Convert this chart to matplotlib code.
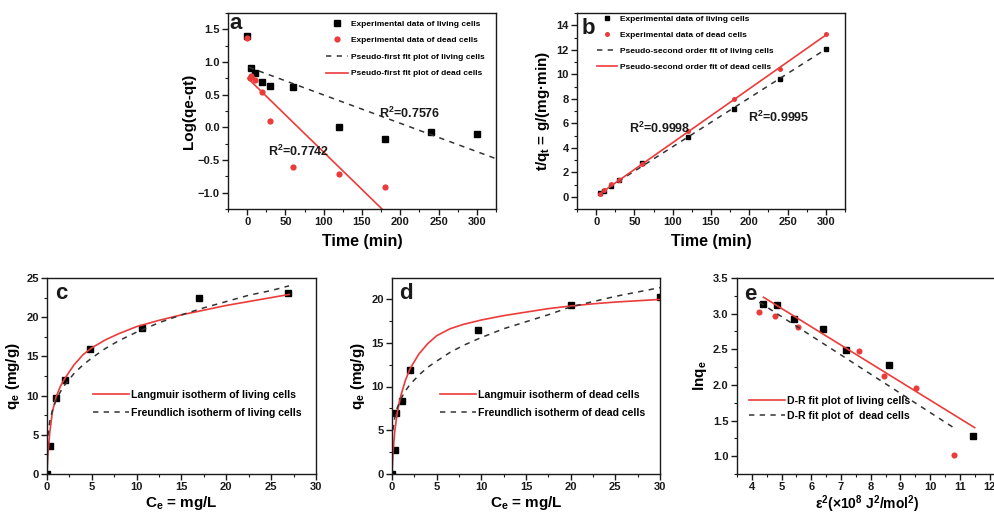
import numpy as np
import matplotlib
matplotlib.use("Agg")
import matplotlib.pyplot as plt
from matplotlib.ticker import MultipleLocator

# ---------- data ----------
# (a) pseudo-first order
t_a_living = [0, 5, 10, 20, 30, 60, 120, 180, 240, 300]
log_a_living = [1.40, 0.91, 0.83, 0.69, 0.63, 0.61, 0.00, -0.18, -0.07, -0.10]
t_a_dead = [0, 4, 5, 10, 20, 30, 60, 120, 180]
log_a_dead = [1.36, 0.76, 0.78, 0.72, 0.54, 0.10, -0.61, -0.71, -0.92]
fit_a_living_x = [2, 325]
fit_a_living_y = [0.92, -0.48]
fit_a_dead_x = [1, 177]
fit_a_dead_y = [0.75, -1.26]
r2_a = ["R$^2$=0.7576", "R$^2$=0.7742"]

# (b) pseudo-second order
t_b = [5, 10, 20, 30, 60, 120, 180, 240, 300]
tq_b_living = [0.30, 0.50, 0.90, 1.35, 2.75, 4.85, 7.20, 9.65, 12.05]
tq_b_dead = [0.25, 0.55, 1.05, 1.40, 2.70, 5.35, 8.00, 10.45, 13.25]
fit_b_living_x = [5, 300]
fit_b_living_y = [0.30, 12.05]
fit_b_dead_x = [5, 300]
fit_b_dead_y = [0.25, 13.20]
r2_b = ["R$^2$=0.9998", "R$^2$=0.9995"]

# (c) isotherms, living cells
ce_c = [0, 0.3, 0.98, 2.03, 4.81, 10.6, 17.0, 26.9]
qe_c = [0, 3.6, 9.75, 12.0, 16.0, 18.6, 22.45, 23.1]
lang_c_x = [0, 0.1, 0.3, 0.6, 1.0, 1.5, 2.0, 3.0, 4.0, 5.0, 6.5, 8.0, 10.0,
            12.5, 15.0, 17.5, 20.0, 22.5, 25.0, 27.0]
lang_c_y = [0, 2.4, 5.2, 7.9, 9.8, 11.2, 12.2, 13.9, 15.2, 16.1, 17.1, 17.9,
            18.8, 19.6, 20.3, 20.9, 21.5, 22.0, 22.5, 22.9]
freu_c_x = [0.03, 0.1, 0.3, 0.6, 1.0, 1.5, 2.0, 3.0, 4.0, 5.0, 6.5, 8.0, 10.0,
            12.5, 15.0, 17.5, 20.0, 22.5, 25.0, 27.0]
freu_c_y = [3.5, 4.9, 6.7, 8.1, 9.4, 10.5, 11.4, 12.8, 13.9, 14.8, 16.0, 17.0,
            18.1, 19.3, 20.3, 21.2, 22.0, 22.8, 23.4, 24.0]

# (d) isotherms, dead cells
ce_d = [0, 0.3, 0.5, 1.1, 2.0, 9.6, 20.0, 30.0]
qe_d = [0, 2.7, 7.0, 8.4, 11.9, 16.5, 19.3, 20.2]
lang_d_x = [0, 0.1, 0.3, 0.6, 1.0, 1.5, 2.0, 3.0, 4.0, 5.0, 6.5, 8.0, 10.0,
            12.5, 15.0, 17.5, 20.0, 22.5, 25.0, 27.5, 30.0]
lang_d_y = [0, 2.2, 4.8, 7.1, 9.0, 10.7, 12.0, 13.7, 14.9, 15.8, 16.6, 17.1,
            17.6, 18.1, 18.5, 18.9, 19.2, 19.45, 19.65, 19.8, 19.95]
freu_d_x = [0.1, 0.3, 0.6, 1.0, 1.5, 2.0, 3.0, 4.0, 5.0, 6.5, 8.0, 10.0,
            12.5, 15.0, 17.5, 20.0, 22.5, 25.0, 27.5, 30.0]
freu_d_y = [5.0, 6.4, 7.6, 8.6, 9.5, 10.2, 11.3, 12.2, 12.9, 13.9, 14.7, 15.6,
            16.6, 17.4, 18.2, 19.1, 19.7, 20.3, 20.8, 21.3]

# (e) D-R
eps_e_living = [4.39, 4.83, 5.43, 6.40, 7.17, 8.62, 11.45]
lnq_e_living = [3.14, 3.12, 2.93, 2.78, 2.49, 2.28, 1.28]
eps_e_dead = [4.25, 4.77, 5.54, 7.62, 8.46, 9.52, 10.80]
lnq_e_dead = [3.02, 2.96, 2.81, 2.48, 2.13, 1.95, 1.01]
fit_e_living_x = [4.39, 11.50]
fit_e_living_y = [3.23, 1.40]
fit_e_dead_x = [4.25, 10.79]
fit_e_dead_y = [3.16, 1.40]

RED = '#ec3b3b'
DARK = '#1a1a1a'

plt.rcParams['font.family'] = ['Liberation Sans', 'DejaVu Sans']
plt.rcParams['font.weight'] = 'bold'
plt.rcParams['axes.labelweight'] = 'bold'
plt.rcParams['mathtext.fontset'] = 'custom'
plt.rcParams['mathtext.rm'] = 'Liberation Sans:bold'
plt.rcParams['mathtext.it'] = 'Liberation Sans:bold'
plt.rcParams['mathtext.bf'] = 'Liberation Sans:bold'
plt.rcParams['mathtext.default'] = 'regular'

W, H = 995, 515
fig = plt.figure(figsize=(W / 100, H / 100), dpi=100)


def make_ax(l, r, t, b):
    # pixel box -> figure fraction
    return fig.add_axes([l / W, (H - b) / H, (r - l) / W, (b - t) / H])


def style(ax, xmaj, xmin, ymaj, ymin):
    ax.xaxis.set_major_locator(MultipleLocator(xmaj))
    ax.xaxis.set_minor_locator(MultipleLocator(xmin))
    ax.yaxis.set_major_locator(MultipleLocator(ymaj))
    ax.yaxis.set_minor_locator(MultipleLocator(ymin))
    ax.tick_params(which='major', direction='out', length=4, width=1,
                   labelsize=8, colors=DARK, pad=2)
    ax.tick_params(which='minor', direction='out', length=2, width=0.8, colors=DARK)
    for s in ax.spines.values():
        s.set_linewidth(1.0)
        s.set_color(DARK)


def panel_label(ax, txt, x, y):
    ax.text(x, y, txt, transform=ax.transAxes, fontsize=16, fontweight='bold',
            ha='center', va='center', color=DARK)


# ---------- a ----------
ax = make_ax(228, 496, 13, 209)
ax.plot(t_a_living, log_a_living, 's', color='black', ms=4.0, ls='none',
        label='Experimental data of living cells')
ax.plot(t_a_dead, log_a_dead, 'o', color=RED, ms=4.5, ls='none', mec='none',
        label='Experimental data of dead cells')
ax.plot(fit_a_living_x, fit_a_living_y, color='#333333', lw=1.1, dashes=(3.5, 3.5),
        label='Pseudo-first fit plot of living cells')
ax.plot(fit_a_dead_x, fit_a_dead_y, color=RED, lw=1.2,
        label='Pseudo-first fit plot of dead cells')
ax.set_xlim(-25, 325)
ax.set_ylim(-1.25, 1.75)
style(ax, 50, 25, 0.5, 0.25)
ax.set_xlabel('Time (min)', fontsize=11.5, labelpad=5)
ax.set_ylabel('Log(qe-qt)', fontsize=11, labelpad=1)
ax.text(172, 0.22, r2_a[0], fontsize=9, ha='left', va='center', color=DARK)
ax.text(27, -0.37, r2_a[1], fontsize=9, ha='left', va='center', color=DARK)
ax.legend(loc='upper left', bbox_to_anchor=(0.366, 0.965), frameon=False,
          fontsize=6, borderpad=0, labelspacing=1.05, handlelength=2.6,
          handletextpad=0.4, borderaxespad=0, numpoints=1)
panel_label(ax, 'a', 0.03, 0.945)

# ---------- b ----------
ax = make_ax(577, 845, 13, 209)
ax.plot(t_b, tq_b_living, 's', color='black', ms=3.2, ls='none',
        label='Experimental data of living cells')
ax.plot(t_b, tq_b_dead, 'o', color=RED, ms=3.6, ls='none', mec='none',
        label='Experimental data of dead cells')
ax.plot(fit_b_living_x, fit_b_living_y, color='#333333', lw=1.1, dashes=(3.5, 3.5),
        label='Pseudo-second order fit of living cells')
ax.plot(fit_b_dead_x, fit_b_dead_y, color=RED, lw=1.2,
        label='Pseudo-second order fit of dead cells')
ax.set_xlim(-25, 325)
ax.set_ylim(-1, 15)
style(ax, 50, 25, 2, 1)
ax.set_xlabel('Time (min)', fontsize=11.5, labelpad=5)
ax.set_ylabel('t/q$_t$ = g/(mg·min)', fontsize=11, labelpad=3)
ax.text(43, 5.55, r2_b[0], fontsize=9, ha='left', va='center', color=DARK)
ax.text(198, 6.5, r2_b[1], fontsize=9, ha='left', va='center', color=DARK)
ax.legend(loc='upper left', bbox_to_anchor=(0.075, 0.99), frameon=False,
          fontsize=6, borderpad=0, labelspacing=1.0, handlelength=2.4,
          handletextpad=0.3, borderaxespad=0, numpoints=1)
panel_label(ax, 'b', 0.042, 0.92)

# ---------- c ----------
ax = make_ax(47, 316, 278, 474)
ax.plot(ce_c, qe_c, 's', color='black', ms=3.8, ls='none')
ax.plot(lang_c_x, lang_c_y, color=RED, lw=1.2,
        label='Langmuir isotherm of living cells')
ax.plot(freu_c_x, freu_c_y, color='#333333', lw=1.1, dashes=(3.5, 3.5),
        label='Freundlich isotherm of living cells')
ax.set_xlim(0, 30)
ax.set_ylim(0, 25)
style(ax, 5, 2.5, 5, 2.5)
ax.set_xlabel('C$_e$ = mg/L', fontsize=11, labelpad=1)
ax.set_ylabel('q$_e$ (mg/g)', fontsize=11, labelpad=3)
ax.legend(loc='upper left', bbox_to_anchor=(0.17, 0.43), frameon=False,
          fontsize=7.6, borderpad=0, labelspacing=0.8, handlelength=3.4,
          handletextpad=0.2, borderaxespad=0)
panel_label(ax, 'c', 0.052, 0.92)

# ---------- d ----------
ax = make_ax(392, 660, 278, 474)
ax.plot(ce_d, qe_d, 's', color='black', ms=3.8, ls='none')
ax.plot(lang_d_x, lang_d_y, color=RED, lw=1.2,
        label='Langmuir isotherm of dead cells')
ax.plot(freu_d_x, freu_d_y, color='#333333', lw=1.1, dashes=(3.5, 3.5),
        label='Freundlich isotherm of dead cells')
ax.set_xlim(0, 30)
ax.set_ylim(0, 22.4)
style(ax, 5, 2.5, 5, 2.5)
ax.set_xlabel('C$_e$ = mg/L', fontsize=11, labelpad=1)
ax.set_ylabel('q$_e$ (mg/g)', fontsize=11, labelpad=3)
ax.legend(loc='upper left', bbox_to_anchor=(0.178, 0.43), frameon=False,
          fontsize=7.6, borderpad=0, labelspacing=0.8, handlelength=3.4,
          handletextpad=0.2, borderaxespad=0)
panel_label(ax, 'd', 0.052, 0.92)

# ---------- e ----------
ax = make_ax(737, 997, 278, 474)
ax.plot(eps_e_living, lnq_e_living, 's', color='black', ms=3.8, ls='none')
ax.plot(eps_e_dead, lnq_e_dead, 'o', color=RED, ms=4.4, ls='none', mec='none')
ax.plot(fit_e_living_x, fit_e_living_y, color=RED, lw=1.2,
        label='D-R fit plot of living cells')
ax.plot(fit_e_dead_x, fit_e_dead_y, color='#333333', lw=1.1, dashes=(3.5, 3.5),
        label='D-R fit plot of  dead cells')
ax.set_xlim(3.5, 12.25)
ax.set_ylim(0.75, 3.5)
style(ax, 1, 0.5, 0.5, 0.25)
ax.set_xlabel('ε$^2$(×10$^8$ J$^2$/mol$^2$)', fontsize=10, labelpad=0.5)
ax.set_ylabel('lnq$_e$', fontsize=11, labelpad=3)
ax.legend(loc='upper left', bbox_to_anchor=(0.045, 0.40), frameon=False,
          fontsize=7.6, borderpad=0, labelspacing=0.5, handlelength=3.4,
          handletextpad=0.2, borderaxespad=0)
panel_label(ax, 'e', 0.053, 0.915)

fig.savefig('out.png', dpi=100)
